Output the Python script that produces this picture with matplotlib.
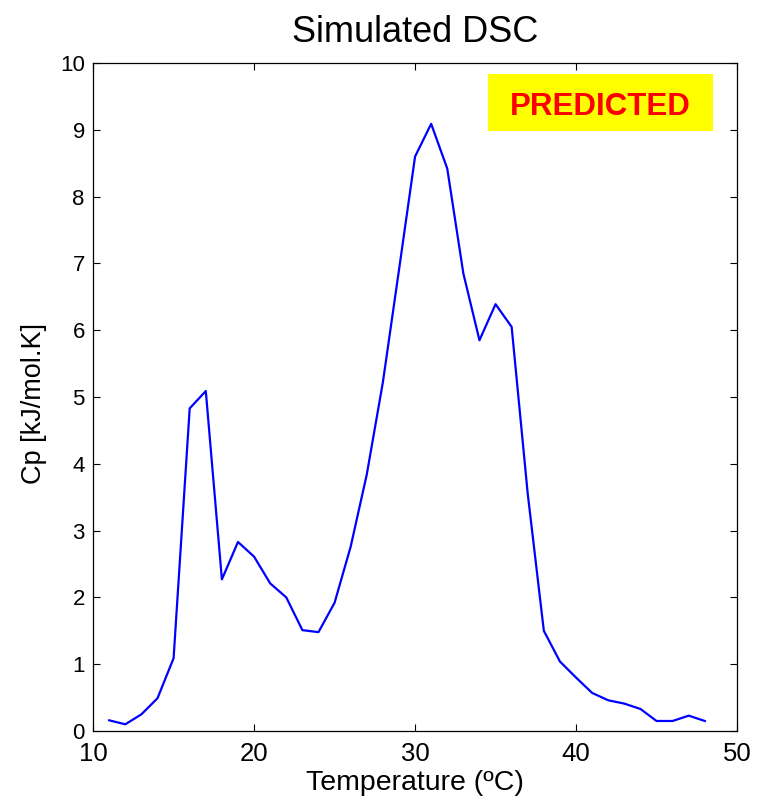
import numpy as np
import matplotlib.pyplot as plt
from matplotlib.patches import Rectangle

plt.rcParams['font.family'] = ['Liberation Sans', 'DejaVu Sans']

# temperature (degC) and simulated heat capacity
temp = [11, 12, 13, 14, 15, 16, 17, 18, 19, 20, 21, 22, 23, 24, 25, 26, 27, 28, 29,
        30, 31, 32, 33, 34, 35, 36, 37, 38, 39, 40, 41, 42, 43, 44, 45, 46, 47, 48]
cp = [0.16, 0.10, 0.25, 0.49, 1.09, 4.83, 5.09, 2.27, 2.83, 2.61, 2.21, 2.00, 1.51,
      1.48, 1.92, 2.76, 3.84, 5.22, 6.90, 8.60, 9.09, 8.42, 6.85, 5.85, 6.39, 6.05,
      3.55, 1.50, 1.04, 0.80, 0.57, 0.46, 0.41, 0.33, 0.15, 0.15, 0.23, 0.15]

xticks = [10, 20, 30, 40, 50]
yticks = list(range(0, 11))

fig = plt.figure(figsize=(7.57, 7.99), dpi=100)
ax = fig.add_axes([0.123, 0.0851, 0.8506, 0.836])

ax.plot(temp, cp, color='#0000ff', lw=1.6)

ax.set_xlim(10, 50)
ax.set_ylim(0, 10)
ax.set_xticks(xticks)
ax.set_yticks(yticks)
ax.tick_params(direction='in', top=True, right=True, length=5, width=0.8)
ax.tick_params(axis='x', labelsize=18.5, pad=8)
ax.tick_params(axis='y', labelsize=16, pad=6)
for s in ax.spines.values():
    s.set_linewidth(0.9)

ax.set_title('Simulated DSC', fontsize=26, pad=15)
ax.set_xlabel('Temperature (ºC)', fontsize=20.5, labelpad=3)
ax.set_ylabel('Cp [kJ/mol.K]', fontsize=19.5)
ax.yaxis.set_label_coords(-0.072, 0.49)

# "PREDICTED" stamp
ax.add_patch(Rectangle((0.613, 0.898), 0.35, 0.0855, transform=ax.transAxes,
                       facecolor='#ffff00', edgecolor='none', zorder=3))
ax.text(0.788, 0.922, 'PREDICTED', transform=ax.transAxes, ha='center', va='baseline',
        color='#ff0000', fontsize=22.5, fontweight='bold', zorder=4)

fig.savefig('out.png', dpi=100)
